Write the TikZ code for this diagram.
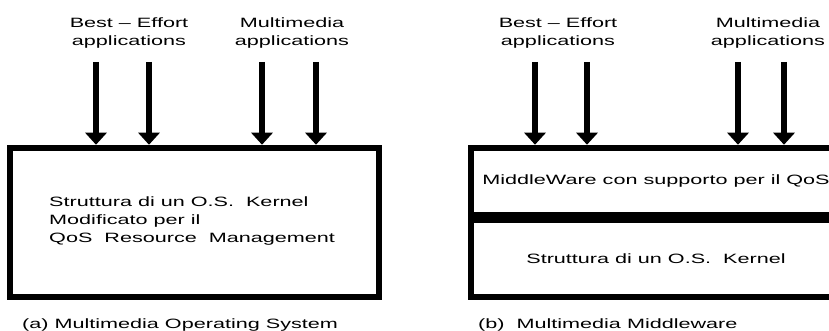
\documentclass[tikz,border=0pt]{standalone}
\usepackage{fontspec}
\setmainfont{Liberation Sans}[FakeStretch=1.6]
\usetikzlibrary{positioning,arrows.meta}

\begin{document}
\begin{tikzpicture}[x=1pt,y=-1pt,font=\fontsize{13.5pt}{18pt}\selectfont]
\tikzset{
 blk/.style={draw,line width=6.5pt,inner sep=0,minimum width=#1},
 lbl/.style={align=center,inner sep=0},
 ar/.style={line width=6pt,-{Triangle[length=12pt,width=21pt]}}
}
\useasboundingbox (0,0) rectangle (829,331);
\clip (0,0) rectangle (829,331);

% (a) multimedia operating system
\node[lbl] (bea) at (129,33) {Best -- Effort\\applications};
\node[lbl] (mma) at (292,33) {Multimedia\\applications};
\node[blk=369pt,minimum height=149pt] (kera) at (194.5,222.5) {};
\node[align=left,anchor=west,inner sep=0] (txa) at (49,221) {Struttura di un O.S.\ \ Kernel\\Modificato per il\\QoS\ \ Resource\ \ Management};
\coordinate (a1) at (96,62); \coordinate (a2) at (149,62);
\coordinate (a3) at (262,62); \coordinate (a4) at (316,62);
\foreach \c in {a1,a2,a3,a4} \draw[ar] (\c) -- (\c |- kera.north);
\node[anchor=west,inner sep=0] (capa) at (22,325) {(a) Multimedia Operating System};

% (b) multimedia middleware
\node[lbl] (beb) at (558,33) {Best -- Effort\\applications};
\node[lbl] (mmb) at (768,33) {Multimedia\\applications};
\node[blk=370pt,minimum height=67pt] (mid) at (656,181.5) {MiddleWare con supporto per il QoS};
\node[blk=370pt,minimum height=77pt] (kerb) at (656,258.5) {Struttura di un O.S.\ \ Kernel};
\coordinate (b1) at (535,62); \coordinate (b2) at (587,62);
\coordinate (b3) at (738,62); \coordinate (b4) at (784,62);
\foreach \c in {b1,b2,b3,b4} \draw[ar] (\c) -- (\c |- mid.north);
\node[anchor=west,inner sep=0] (capb) at (478,325) {(b)\ \ Multimedia Middleware};
\end{tikzpicture}
\end{document}
